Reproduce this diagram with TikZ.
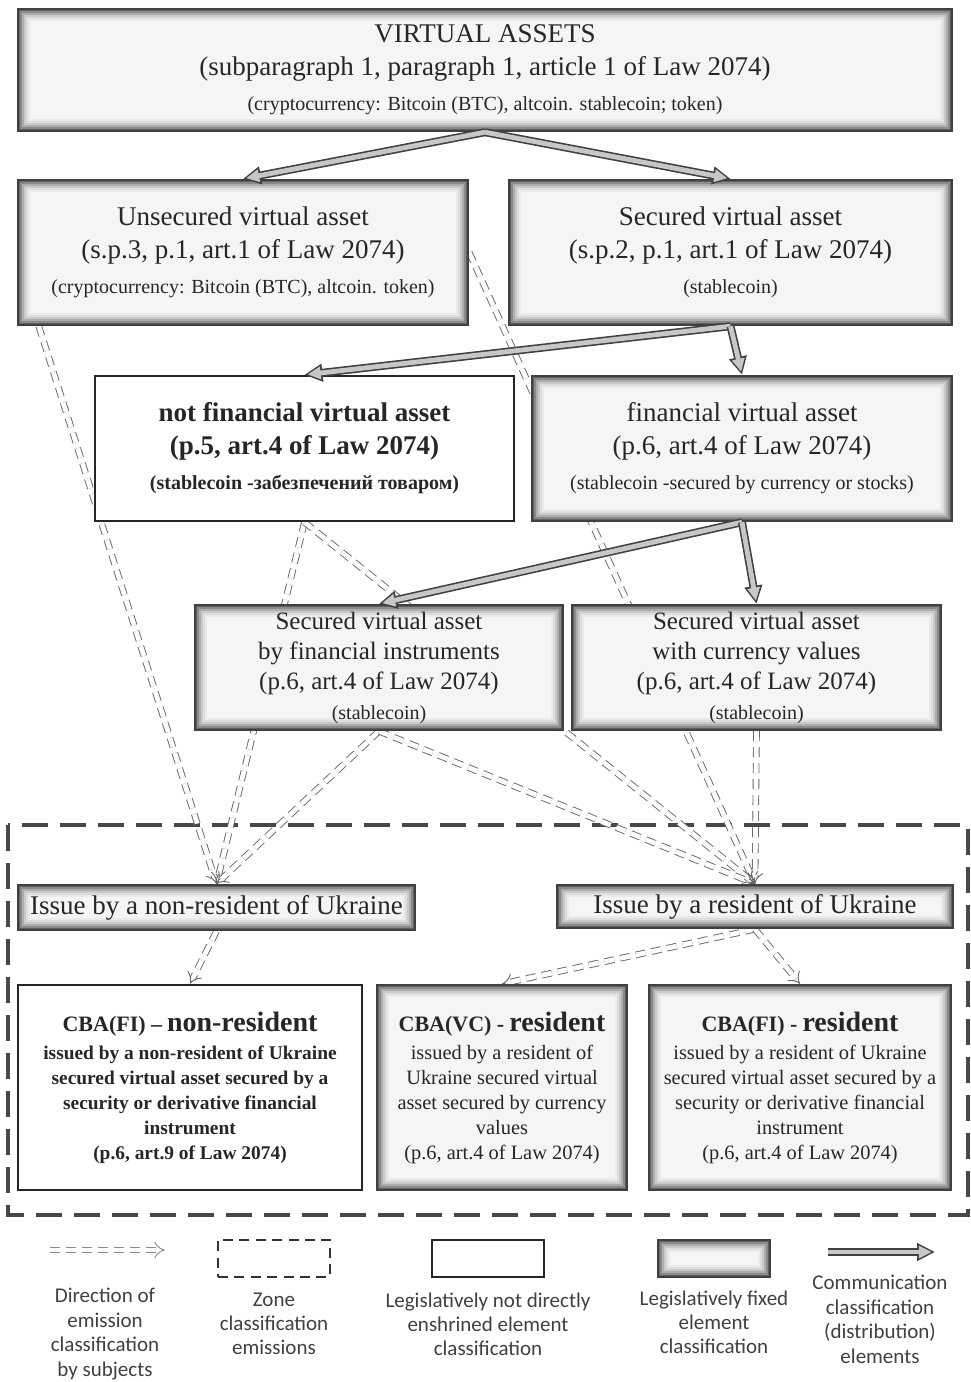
\documentclass[tikz,border=0pt]{standalone}
\usepackage{fontspec}
\setmainfont{Liberation Serif}
\newfontfamily\legendfont{Carlito}
\usetikzlibrary{arrows.meta,positioning}
\pgfdeclarelayer{background}
\pgfsetlayers{background,main}
\newcommand{\lawnote}[1]{{\fontsize{10}{12}\selectfont #1}}

\begin{document}
\begin{tikzpicture}[x=0.5pt, y=-0.5pt, font=\fontsize{13.5}{16.5}\selectfont, text=black!85,
        every node/.style={align=center, inner sep=0pt},
        plainbox/.style={draw=black!85, line width=1.2pt, fill=white},
        lawbox/.style={draw=black!75, line width=1.2pt, fill=black!4,
            path picture={\foreach \d/\c in {0.6pt/62,1.6pt/46,2.6pt/32,3.6pt/21,4.6pt/13,5.6pt/8}
                {\draw[black!\c, line width=1.05pt] ([shift={(\d,\d)}]path picture bounding box.south west)
                    rectangle ([shift={(-\d,-\d)}]path picture bounding box.north east);}}},
        comm/.style={draw=black!22, line width=2.4pt, -{Triangle[length=6.5pt,width=6pt]}, shorten >=1.6pt,
            preaction={draw=black!75, line width=4pt, -{Triangle[length=9pt,width=8.5pt]}, shorten >=0pt}},
        emit/.style={draw=black!60, line width=0.45pt, double=white, double distance=2.4pt,
            dash pattern=on 5pt off 3pt, -Implies},
        zone/.style={draw=black!72, line width=2pt, dash pattern=on 13pt off 6pt},
        cbatext/.style={font=\fontsize{10.2}{12.5}\selectfont},
        legtext/.style={font=\legendfont\fontsize{10.5}{12.2}\selectfont, text=black!75}]

    \useasboundingbox (0,0) rectangle (970,1382);

    \node[lawbox, minimum width=467pt, minimum height=61pt] (va) at (485,70)
        {VIRTUAL ASSETS\\(subparagraph 1, paragraph 1, article 1 of Law 2074)\\[1pt]\lawnote{(cryptocurrency: Bitcoin (BTC), altcoin. stablecoin; token)}};

    \node[lawbox, minimum width=225pt, minimum height=72.5pt] (unsec) at (243,252.5)
        {Unsecured virtual asset\\(s.p.3, p.1, art.1 of Law 2074)\\[1pt]\lawnote{(cryptocurrency: Bitcoin (BTC), altcoin. token)}};
    \node[lawbox, minimum width=221.5pt, minimum height=72.5pt] (sec) at (730.5,252.5)
        {Secured virtual asset\\(s.p.2, p.1, art.1 of Law 2074)\\[1pt]\lawnote{(stablecoin)}};

    \node[plainbox, minimum width=209.5pt, minimum height=72.5pt, font=\bfseries\fontsize{13.5}{16.5}\selectfont] (notfin) at (304.5,448.5)
        {not financial virtual asset\\(p.5, art.4 of Law 2074)\\[1pt]\lawnote{(stablecoin -забезпечений товаром)}};
    \node[lawbox, minimum width=210pt, minimum height=72.5pt] (fin) at (742,448.5)
        {financial virtual asset\\(p.6, art.4 of Law 2074)\\[1pt]\lawnote{(stablecoin -secured by currency or stocks)}};

    \node[lawbox, minimum width=184pt, minimum height=62.5pt, font=\fontsize{12.5}{15}\selectfont] (secfi) at (379,667.5)
        {Secured virtual asset\\by financial instruments\\(p.6, art.4 of Law 2074)\\\lawnote{(stablecoin)}};
    \node[lawbox, minimum width=184.5pt, minimum height=62.5pt, font=\fontsize{12.5}{15}\selectfont] (seccur) at (756.5,667.5)
        {Secured virtual asset\\with currency values\\(p.6, art.4 of Law 2074)\\\lawnote{(stablecoin)}};

    \node[lawbox, minimum width=198.5pt, minimum height=22.5pt] (nonres) at (216.5,907.5) {Issue by a non-resident of Ukraine};
    \node[lawbox, minimum width=198pt, minimum height=21.5pt] (res) at (755,906.5) {Issue by a resident of Ukraine};

    \node[plainbox, minimum width=172pt, minimum height=102.5pt, font=\bfseries\fontsize{9.7}{12.5}\selectfont] (cbanr) at (190,1087.5)
        {{\fontsize{11}{13}\selectfont CBA(FI) –}\ {\fontsize{14}{14}\selectfont non-resident}\\[1.5pt]issued by a non-resident of Ukraine\\secured virtual asset secured by a\\security or derivative financial\\instrument\\(p.6, art.9 of Law 2074)};
    \node[lawbox, cbatext, minimum width=125pt, minimum height=102.5pt] (cbavc) at (502,1087.5)
        {\textbf{{\fontsize{11}{13}\selectfont CBA(VC) -} {\fontsize{14}{14}\selectfont resident}}\\[1.5pt]issued by a resident of\\Ukraine secured virtual\\asset secured by currency\\values\\(p.6, art.4 of Law 2074)};
    \node[lawbox, cbatext, minimum width=151pt, minimum height=102.5pt] (cbafr) at (800,1087.5)
        {\textbf{{\fontsize{11}{13}\selectfont CBA(FI) -} {\fontsize{14}{14}\selectfont resident}}\\[1.5pt]issued by a resident of Ukraine\\secured virtual asset secured by a\\security or derivative financial\\instrument\\(p.6, art.4 of Law 2074)};

    \begin{pgfonlayer}{background}
        \draw[zone] (8,825) rectangle (968,1215);
        \draw[emit] ([xshift=11pt]unsec.south west) -- (nonres.north);
        \draw[emit] (unsec.east) -- (res.north);
        \draw[emit] (notfin.south) -- (nonres.north);
        \draw[emit] (notfin.south) -- (res.north);
        \draw[emit] (secfi.south) -- (nonres.north);
        \draw[emit] (secfi.south) -- (res.north);
        \draw[emit] (seccur.south) -- (res.north);
        \draw[emit] (nonres.south) -- (cbanr.north);
        \draw[emit] (res.south) -- (cbavc.north);
        \draw[emit] (res.south) -- (cbafr.north);
    \end{pgfonlayer}

    \draw[comm] (va.south) -- (unsec.north);
    \draw[comm] (va.south) -- (sec.north);
    \draw[comm] (sec.south) -- (notfin.north);
    \draw[comm] (sec.south) -- (fin.north);
    \draw[comm] (fin.south) -- (secfi.north);
    \draw[comm] (fin.south) -- (seccur.north);

    \coordinate (emitA) at (50,1250);
    \coordinate (emitB) at (165,1250);
    \draw[emit, draw=black!45] (emitA) -- (emitB);
    \node[draw=black!80, line width=1.3pt, dash pattern=on 5pt off 3.2pt, minimum width=56pt, minimum height=18.5pt] (zoneleg) at (274,1258.5) {};
    \node[plainbox, minimum width=56pt, minimum height=18.5pt] (plainleg) at (488,1258.5) {};
    \node[lawbox, minimum width=56pt, minimum height=18.5pt] (lawleg) at (714,1258.5) {};
    \coordinate (commA) at (828,1252);
    \coordinate (commB) at (935,1252);
    \draw[comm] (commA) -- (commB);

    \node[legtext, anchor=north] (emitlab) at (105,1288) {Direction of\\emission\\classification\\by subjects};
    \node[legtext, below=7pt of zoneleg] (zonelab) {Zone\\classification\\emissions};
    \node[legtext, below=7pt of plainleg] (plainlab) {Legislatively not directly\\enshrined element\\classification};
    \node[legtext, below=6pt of lawleg] (lawlab) {Legislatively fixed\\element\\classification};
    \node[legtext, anchor=north] (commlab) at (880,1275) {Communication\\classification\\(distribution)\\elements};
\end{tikzpicture}
\end{document}
